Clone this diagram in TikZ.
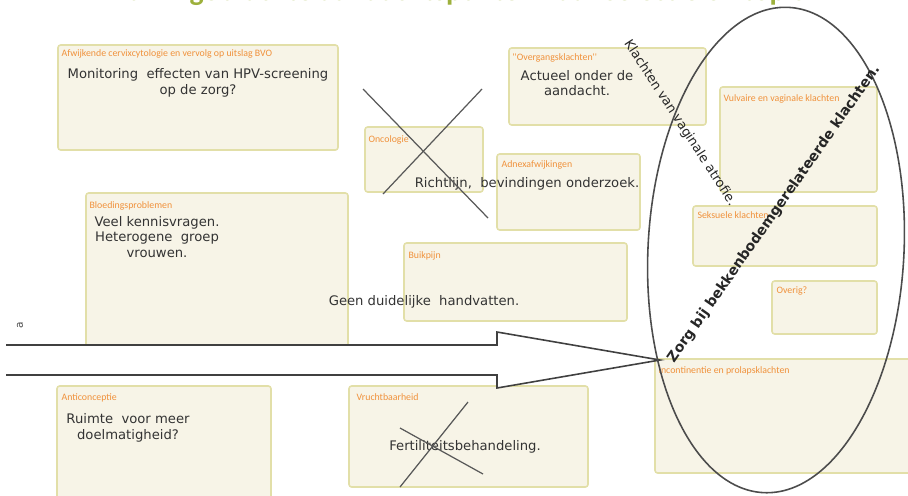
\documentclass[tikz,border=0pt]{standalone}
\usepackage{fontspec}
\setmainfont{DejaVu Sans}
\newfontfamily\kopfont{Carlito}
\usepackage{tikz}
\usetikzlibrary{fit}
\definecolor{vakvulling}{HTML}{F7F4E7}
\definecolor{vakrand}{HTML}{E2DFA8}
\definecolor{koporanje}{HTML}{F0913B}
\definecolor{titelgroen}{HTML}{9DB03C}
\tikzset{>=stealth,
  vak/.style={draw=vakrand, fill=vakvulling, line width=0.9pt, rounded corners=1.5pt, inner sep=0pt},
  kop/.style={anchor=north west, text=koporanje, font=\kopfont\fontsize{5.6}{6}\selectfont, inner sep=0pt},
  tekst/.style={align=center, text=black!80, font=\fontsize{7.5}{9}\selectfont, inner sep=0pt},
  kruis/.style={line width=0.7pt, black!65}}

\begin{document}
\begin{tikzpicture}[x=0.02cm,y=-0.02cm]
          \useasboundingbox (0,0) rectangle (908,495);
          \clip (0,0) rectangle (908,495);

          % Title (cut off at the top)
          \node[anchor=base, text=titelgroen, font=\kopfont\bfseries\fontsize{17}{20}\selectfont] (titel) at (460,0.5) {Van ingebrachte aandachtspunten naar selectie en top 5};

          % Boxes
          \node[vak, fit={(58,45) (338,150)}] (cyto) {};
          \node[vak, fit={(365,127) (483,192)}] (onco) {};
          \node[vak, fit={(509,48) (706,125)}] (overgang) {};
          \node[vak, fit={(497,154) (640,230)}] (adnex) {};
          \node[vak, fit={(86,193) (348,347)}] (bloed) {};
          \node[vak, fit={(404,243) (627,321)}] (buik) {};
          \node[vak, fit={(720,87) (877,192)}] (vulva) {};
          \node[vak, fit={(693,206) (877,266)}] (seks) {};
          \node[vak, fit={(772,281) (877,334)}] (overig) {};
          \node[vak, fit={(655,359) (918,473)}] (incont) {};
          \node[vak, fit={(57,386) (271,505)}] (anti) {};
          \node[vak, fit={(349,386) (588,487)}] (vrucht) {};

          % Box titles
          \node[kop] at ([shift={(4,5)}]cyto.north west) {Afwijkende cervixcytologie en vervolg op uitslag BVO};
          \node[kop] at ([shift={(4,9)}]onco.north west) {Oncologie};
          \node[kop] at ([shift={(4,6)}]overgang.north west) {''Overgangsklachten''};
          \node[kop] at ([shift={(5,7)}]adnex.north west) {Adnexafwijkingen};
          \node[kop] at ([shift={(4,9)}]bloed.north west) {Bloedingsproblemen};
          \node[kop] at ([shift={(5,9)}]buik.north west) {Buikpijn};
          \node[kop] at ([shift={(4,8)}]vulva.north west) {Vulvaire en vaginale klachten};
          \node[kop] at ([shift={(5,6)}]seks.north west) {Seksuele klachten};
          \node[kop] at ([shift={(5,6)}]overig.north west) {Overig?};
          \node[kop] at ([shift={(4,8)}]incont.north west) {Incontinentie en prolapsklachten};
          \node[kop] at ([shift={(5,8)}]anti.north west) {Anticonceptie};
          \node[kop] at ([shift={(8,8)}]vrucht.north west) {Vruchtbaarheid};

          % Texts
          \node[tekst] (monitoring) at (198,83) {Monitoring\ \ effecten van HPV-screening\\op de zorg?};
          \node[tekst] (actueel) at (577,83) {Actueel onder de\\aandacht.};
          \node[tekst] (richtlijn) at (527,184) {Richtlijn,\ \ bevindingen onderzoek.};
          \node[tekst] (kennis) at (157,237) {Veel kennisvragen.\\Heterogene\ \ groep\\vrouwen.};
          \node[tekst] (handvat) at (424,302) {Geen duidelijke\ \ handvatten.};
          \node[tekst] (ruimte) at (128,428) {Ruimte\ \ voor meer\\doelmatigheid?};
          \node[tekst] (fertiel) at (465,447) {Fertiliteitsbehandeling.};
          \node[rotate=90, text=black!70, font=\fontsize{6}{6}\selectfont] (merk) at (20,325) {a};

          % Crosses
          \draw[kruis] (363,89) -- (488,218);
          \draw[kruis] (482,89) -- (383,194);
          \draw[kruis] (468,402) -- (400,487);
          \draw[kruis] (400,428) -- (483,474);

          % Arrow
          \draw[line width=0.9pt, black!75, fill=white, line join=miter]
            (6,345) -- (497,345) -- (497,332) -- (660,360) -- (497,388) -- (497,375) -- (6,375);

          % Ellipse
          \draw[line width=0.9pt, black!70, rotate around={-3:(776,250)}] (776,250) ellipse [x radius=2.56cm, y radius=4.86cm];

          % Rotated texts
          \node[rotate=-57, text=black!85, font=\fontsize{7.4}{8}\selectfont, inner sep=0pt] (atrofie) at (680,123) {Klachten van vaginale atrofie.};
          \node[rotate=55, text=black!85, font=\bfseries\fontsize{8}{9}\selectfont, inner sep=0pt] (zorg) at (774,214) {Zorg bij bekkenbodemgerelateerde klachten.};
        \end{tikzpicture}
\end{document}
